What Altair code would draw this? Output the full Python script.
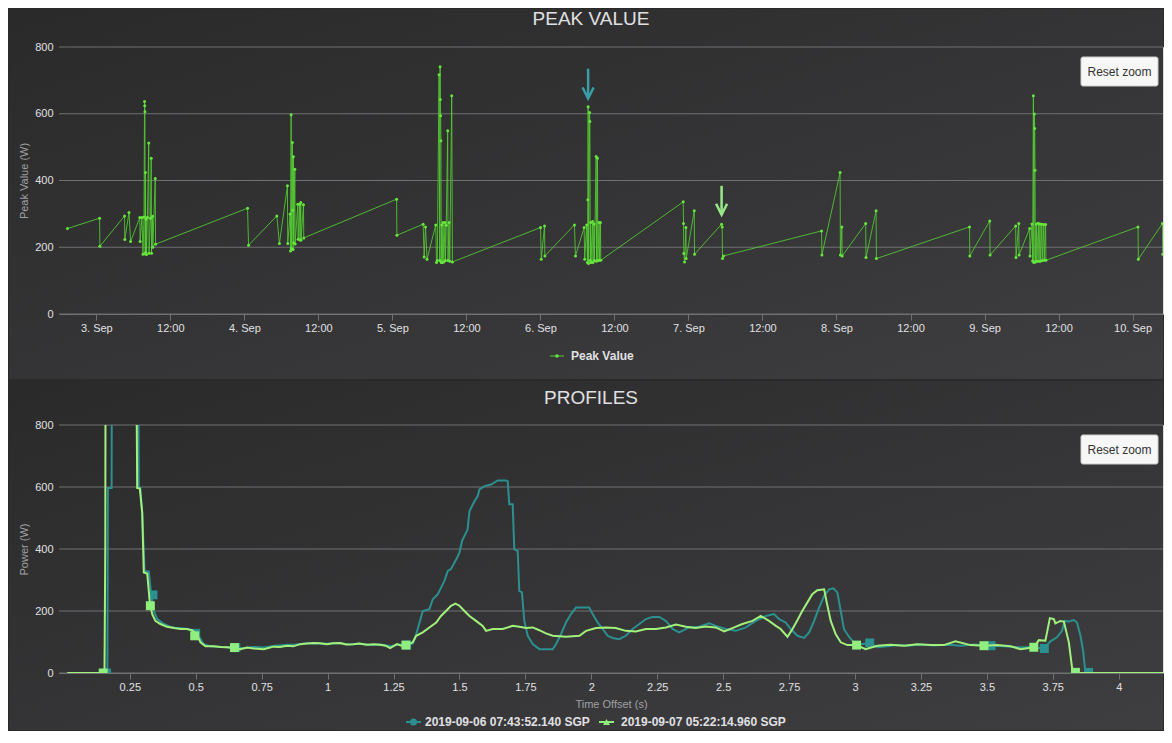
import altair as alt
import pandas as pd

# ---------------- data ----------------
panel_titles = ["PEAK VALUE", "PROFILES"]
reset_label = "Reset zoom"
peak_legend = "Peak Value"
series_labels = ["2019-09-06 07:43:52.140 SGP", "2019-09-07 05:22:14.960 SGP"]

top_domain = ["2019-09-02T17:57", "2019-09-10T04:56"]
time_ticks = ["2019-09-03T00:00", "2019-09-03T12:00", "2019-09-04T00:00", "2019-09-04T12:00",
              "2019-09-05T00:00", "2019-09-05T12:00", "2019-09-06T00:00", "2019-09-06T12:00",
              "2019-09-07T00:00", "2019-09-07T12:00", "2019-09-08T00:00", "2019-09-08T12:00",
              "2019-09-09T00:00", "2019-09-09T12:00", "2019-09-10T00:00"]
watt_ticks = [0, 200, 400, 600, 800]
offset_ticks = [0.25, 0.5, 0.75, 1, 1.25, 1.5, 1.75, 2, 2.25, 2.5, 2.75, 3, 3.25, 3.5, 3.75, 4]
offset_domain = [-0.0185, 4.168]

peak_times = [
    "2019-09-02T19:19", "2019-09-03T00:32", "2019-09-03T00:35", "2019-09-03T04:35", "2019-09-03T04:37",
    "2019-09-03T05:18", "2019-09-03T05:33", "2019-09-03T07:03", "2019-09-03T07:06",
    "2019-09-03T07:24", "2019-09-03T07:34", "2019-09-03T07:44", "2019-09-03T07:49", "2019-09-03T07:51",
    "2019-09-03T07:53", "2019-09-03T07:55", "2019-09-03T07:58", "2019-09-03T08:01", "2019-09-03T08:04",
    "2019-09-03T08:08", "2019-09-03T08:17", "2019-09-03T08:30", "2019-09-03T08:33", "2019-09-03T08:47",
    "2019-09-03T08:54", "2019-09-03T08:57", "2019-09-03T09:07", "2019-09-03T09:10", "2019-09-03T09:33",
    "2019-09-03T09:36",
    "2019-09-04T00:31", "2019-09-04T00:41", "2019-09-04T05:16", "2019-09-04T05:41", "2019-09-04T06:59",
    "2019-09-04T07:02", "2019-09-04T07:25", "2019-09-04T07:29", "2019-09-04T07:35", "2019-09-04T07:38",
    "2019-09-04T07:47", "2019-09-04T07:50", "2019-09-04T07:54", "2019-09-04T07:57", "2019-09-04T08:00",
    "2019-09-04T08:11", "2019-09-04T08:14", "2019-09-04T08:40", "2019-09-04T08:43", "2019-09-04T08:58",
    "2019-09-04T09:01", "2019-09-04T09:09", "2019-09-04T09:12", "2019-09-04T09:35", "2019-09-04T09:38",
    "2019-09-05T00:41", "2019-09-05T00:44", "2019-09-05T04:59", "2019-09-05T05:09", "2019-09-05T05:22",
    "2019-09-05T05:37", "2019-09-05T07:02", "2019-09-05T07:09", "2019-09-05T07:17", "2019-09-05T07:34",
    "2019-09-05T07:41", "2019-09-05T07:44", "2019-09-05T07:46", "2019-09-05T07:49", "2019-09-05T07:52",
    "2019-09-05T07:55", "2019-09-05T08:00", "2019-09-05T08:05", "2019-09-05T08:13", "2019-09-05T08:20",
    "2019-09-05T08:32", "2019-09-05T08:36", "2019-09-05T08:44", "2019-09-05T08:58", "2019-09-05T09:01",
    "2019-09-05T09:11", "2019-09-05T09:18", "2019-09-05T09:37", "2019-09-05T09:44",
    "2019-09-06T00:01", "2019-09-06T00:08", "2019-09-06T00:40", "2019-09-06T00:43", "2019-09-06T05:31",
    "2019-09-06T05:41", "2019-09-06T07:05", "2019-09-06T07:11", "2019-09-06T07:30", "2019-09-06T07:37",
    "2019-09-06T07:41", "2019-09-06T07:44", "2019-09-06T07:48", "2019-09-06T07:58", "2019-09-06T08:01",
    "2019-09-06T08:05", "2019-09-06T08:09", "2019-09-06T08:12", "2019-09-06T08:28", "2019-09-06T08:31",
    "2019-09-06T08:42", "2019-09-06T08:45", "2019-09-06T09:02", "2019-09-06T09:05", "2019-09-06T09:15",
    "2019-09-06T09:18", "2019-09-06T09:31", "2019-09-06T09:34", "2019-09-06T09:44", "2019-09-06T09:47",
    "2019-09-06T23:09", "2019-09-06T23:12", "2019-09-06T23:15", "2019-09-06T23:22", "2019-09-06T23:35",
    "2019-09-06T23:38", "2019-09-07T00:56", "2019-09-07T00:59", "2019-09-07T05:22", "2019-09-07T05:28",
    "2019-09-07T05:31", "2019-09-07T05:40",
    "2019-09-07T21:35", "2019-09-07T21:38", "2019-09-08T00:35", "2019-09-08T00:38", "2019-09-08T00:52",
    "2019-09-08T00:55", "2019-09-08T04:44", "2019-09-08T04:47", "2019-09-08T06:25", "2019-09-08T06:28",
    "2019-09-08T21:34", "2019-09-08T21:37", "2019-09-09T00:51", "2019-09-09T00:54", "2019-09-09T05:03",
    "2019-09-09T05:06", "2019-09-09T05:33", "2019-09-09T05:36", "2019-09-09T07:19", "2019-09-09T07:22",
    "2019-09-09T07:42", "2019-09-09T07:48", "2019-09-09T07:55", "2019-09-09T08:00", "2019-09-09T08:05",
    "2019-09-09T08:08", "2019-09-09T08:11", "2019-09-09T08:15", "2019-09-09T08:24", "2019-09-09T08:29",
    "2019-09-09T08:44", "2019-09-09T08:49", "2019-09-09T09:00", "2019-09-09T09:03", "2019-09-09T09:18",
    "2019-09-09T09:21", "2019-09-09T09:37", "2019-09-09T09:40", "2019-09-09T09:54", "2019-09-09T09:57",
    "2019-09-10T00:53", "2019-09-10T00:56", "2019-09-10T04:50", "2019-09-10T04:53",
]
peak_values = [
    256, 287, 203, 294, 223, 304, 217, 289, 217,
    289, 179, 291, 637, 624, 606, 180, 424, 184, 285, 178, 290, 512, 182, 287, 467, 182, 293, 200, 406, 209,
    317, 206, 294, 211, 384, 211, 300, 189, 597, 196, 514, 311, 193, 471, 213, 434, 210, 329, 224, 329,
    222, 334, 222, 327, 228,
    344, 236, 269, 171, 261, 164, 267, 154, 160, 717, 160, 741, 643, 594, 519, 154, 267, 154, 274, 156,
    274, 160, 266, 549, 160, 274, 158, 654, 156,
    259, 164, 264, 174, 267, 174, 259, 164, 267, 154, 342, 621, 151, 604, 577, 160, 274, 154, 277, 154,
    270, 160, 472, 158, 467, 160, 274, 161, 274, 161,
    336, 271, 181, 156, 259, 166, 309, 179, 269, 261, 166, 174,
    249, 177, 424, 177, 261, 174, 271, 169, 309, 166,
    261, 174, 279, 177, 264, 169, 271, 177, 256, 174, 270, 159, 654, 154, 599, 556, 431, 156, 270, 158,
    272, 158, 270, 158, 269, 160, 268, 161, 268, 161,
    261, 164, 271, 179,
]

arrow_times = ["2019-09-06T07:43:52", "2019-09-07T05:22:15"]
arrow_top = [735, 384]
arrow_tip = [650, 302]
arrow_head = [662, 314]

prof_a_x = [0.013, 0.05, 0.10, 0.165, 0.167, 0.181, 0.183, 0.280, 0.284, 0.290, 0.297, 0.306, 0.322, 0.331,
            0.341, 0.354, 0.379, 0.40, 0.42, 0.44, 0.467, 0.492, 0.511, 0.53, 0.556, 0.58, 0.62, 0.65, 0.68,
            0.72, 0.76, 0.80, 0.84, 0.88, 0.92, 0.96, 1.00, 1.04, 1.08, 1.12, 1.16, 1.20, 1.24, 1.27, 1.30,
            1.323, 1.336, 1.361, 1.386, 1.399, 1.418, 1.443, 1.456, 1.468, 1.49, 1.50, 1.51, 1.531, 1.538,
            1.557, 1.569, 1.576, 1.595, 1.62, 1.645, 1.677, 1.683, 1.689, 1.702, 1.708, 1.721, 1.727, 1.737,
            1.746, 1.759, 1.778, 1.803, 1.854, 1.866, 1.885, 1.904, 1.923, 1.942, 1.992, 2.005, 2.024, 2.043,
            2.062, 2.081, 2.106, 2.131, 2.157, 2.182, 2.207, 2.232, 2.258, 2.283, 2.308, 2.333, 2.371, 2.409,
            2.447, 2.472, 2.51, 2.548, 2.586, 2.624, 2.662, 2.693, 2.712, 2.737, 2.756, 2.782, 2.807, 2.826,
            2.845, 2.864, 2.883, 2.902, 2.918, 2.933, 2.946, 2.958, 2.977, 2.996, 3.021, 3.056, 3.085, 3.122,
            3.16, 3.20, 3.25, 3.30, 3.35, 3.40, 3.45, 3.516, 3.564, 3.615, 3.665, 3.718, 3.741, 3.766, 3.785,
            3.795, 3.81, 3.83, 3.842, 3.855, 3.865, 3.874, 3.886, 4.0, 4.168]
prof_a_w = [0, 0, 0, 0, 597, 597, 1500, 1500, 597, 597, 520, 329, 327, 252,
            200, 174, 158, 150, 146, 145, 142, 136, 120, 93, 86, 85, 83, 82, 80,
            84, 82, 88, 90, 92, 95, 96, 94, 97, 92, 94, 90, 92, 86, 92, 90,
            95, 125, 200, 206, 238, 254, 297, 329, 335, 370, 388, 426, 463, 522,
            554, 570, 592, 603, 608, 621, 621, 619, 544, 544, 399, 394, 265, 260,
            168, 120, 93, 77, 77, 93, 125, 163, 190, 211, 211, 190, 163, 142,
            120, 113, 109, 120, 142, 158, 174, 181, 181, 168, 142, 131, 147, 149,
            160, 152, 142, 136, 147, 168, 184, 190, 174, 163, 142, 120, 113, 131,
            168, 211, 249, 270, 273, 260, 200, 142, 117, 99, 93, 97, 83, 86,
            90, 88, 92, 89, 91, 88, 92, 88, 86, 83, 83, 79, 102, 115, 136,
            168, 166, 171, 163, 120, 72, 0, 0, 0, 0]

prof_b_x = [0.013, 0.10, 0.154, 0.157, 0.159, 0.271, 0.278, 0.288, 0.297, 0.303, 0.316, 0.326, 0.335, 0.347,
            0.366, 0.391, 0.417, 0.442, 0.467, 0.486, 0.505, 0.518, 0.537, 0.568, 0.595, 0.619, 0.645, 0.669,
            0.695, 0.72, 0.758, 0.795, 0.82, 0.846, 0.87, 0.896, 0.92, 0.947, 0.97, 0.997, 1.02, 1.048, 1.07,
            1.098, 1.12, 1.149, 1.175, 1.199, 1.22, 1.237, 1.263, 1.28, 1.297, 1.323, 1.336, 1.361, 1.386,
            1.412, 1.43, 1.449, 1.468, 1.485, 1.50, 1.519, 1.538, 1.563, 1.588, 1.601, 1.626, 1.664, 1.702,
            1.727, 1.753, 1.778, 1.803, 1.828, 1.854, 1.904, 1.955, 1.98, 2.018, 2.056, 2.093, 2.131, 2.169,
            2.207, 2.245, 2.283, 2.321, 2.359, 2.396, 2.434, 2.472, 2.504, 2.535, 2.573, 2.611, 2.643, 2.674,
            2.70, 2.718, 2.744, 2.763, 2.782, 2.80, 2.819, 2.838, 2.857, 2.883, 2.893, 2.908, 2.927, 2.946,
            2.971, 3.006, 3.04, 3.085, 3.135, 3.186, 3.236, 3.287, 3.337, 3.381, 3.438, 3.489, 3.539, 3.59,
            3.628, 3.678, 3.697, 3.722, 3.739, 3.754, 3.76, 3.779, 3.792, 3.811, 3.823, 3.832, 4.0, 4.168]
prof_b_w = [0, 0, 0, 404, 1500, 1500, 597, 595, 517, 324, 321, 227, 190, 168,
            158, 149, 145, 142, 142, 138, 125, 99, 86, 86, 84, 83, 80, 77,
            82, 79, 77, 85, 84, 88, 86, 93, 95, 97, 96, 93, 96, 97, 92,
            93, 95, 91, 93, 91, 88, 80, 93, 88, 90, 99, 120, 131, 147,
            163, 184, 200, 217, 224, 217, 200, 184, 168, 152, 136, 142, 142, 152,
            149, 145, 147, 138, 128, 120, 117, 120, 136, 145, 147, 145, 136, 134,
            142, 142, 147, 156, 149, 145, 150, 147, 134, 145, 158, 168, 184, 168,
            152, 142, 117, 142, 171, 200, 227, 254, 267, 270, 227, 168, 125, 99,
            90, 90, 77, 88, 91, 88, 93, 90, 90, 102, 90, 88, 90, 86,
            77, 83, 106, 104, 177, 174, 160, 168, 166, 99, 18, 0, 0, 0]

mark_a_x = [0.162, 0.338, 0.50, 0.652, 1.30, 3.056, 3.516, 3.718, 3.886]
mark_a_w = [0, 252, 128, 82, 90, 97, 88, 79, 2]
mark_b_x = [0.149, 0.328, 0.496, 0.647, 1.297, 3.006, 3.489, 3.678, 3.836]
mark_b_w = [0, 217, 120, 82, 90, 90, 88, 83, 2]

# ---------------- style ----------------
FONT = "Liberation Sans"
TXT = "#E0E0E3"
AXT = "#A0A0A3"
GRID = "#707073"
TEAL = "#2b908f"
GREEN = "#90ee7e"
GREEN_LINE = "#a2f07c"
PEAK_LINE = "#55cc33"
PEAK_DOT = "#66e63d"
W = 1104
H1, H2 = 267, 248


def dt(s):
    ts = pd.Timestamp(s)
    return alt.DateTime(year=ts.year, month=ts.month, date=ts.day,
                        hours=ts.hour, minutes=ts.minute, seconds=ts.second)


one = pd.DataFrame({"k": [0]})


def background(top, bottom):
    grad = alt.LinearGradient(gradient="linear",
                              stops=[alt.GradientStop(color="#2a2a2b", offset=0),
                                     alt.GradientStop(color="#3e3e40", offset=1)],
                              x1=0, y1=0, x2=1, y2=1)
    return alt.Chart(one).mark_rect(fill=grad, strokeWidth=0).encode(
        x=alt.value(-50), x2=alt.value(W), y=alt.value(-top), y2=alt.value(bottom))


def text_at(x, y, label, size=12, weight="normal", color=TXT, align="left"):
    return alt.Chart(one).mark_text(align=align, baseline="middle", fontSize=size, fontWeight=weight,
                                    color=color, font=FONT).encode(
        x=alt.value(x), y=alt.value(y), text=alt.value(label))


def reset_button():
    box = alt.Chart(one).mark_rect(fill="#f7f7f7", stroke="#cccccc", strokeWidth=1, cornerRadius=2).encode(
        x=alt.value(1022), x2=alt.value(1099), y=alt.value(10), y2=alt.value(39))
    return box + text_at(1060.5, 24.5, reset_label, size=12, color="#333333", align="center")


def y_axis(title, h):
    return alt.Axis(values=watt_ticks, grid=False, domain=False, ticks=False, tickSize=0, labelPadding=6,
                    labelColor=TXT, labelFontSize=11, labelFont=FONT, zindex=1,
                    title=title, titleColor=AXT, titleFontSize=11, titleFontWeight="normal", titleFont=FONT,
                    titleAngle=270, titleX=-35, titleY=h / 2, titleAlign="center", titleBaseline="middle")


# ---------------- top panel ----------------
tx_scale = alt.Scale(domain=[dt(top_domain[0]), dt(top_domain[1])])
tx_axis = alt.Axis(values=[dt(s) for s in time_ticks],
                   labelExpr="hours(datum.value) == 0 ? date(datum.value) + '. Sep' : timeFormat(datum.value, '%H:%M')",
                   grid=False, domainColor=GRID, tickColor=GRID, tickSize=6, labelPadding=2, labelFlush=False,
                   labelOverlap=False, labelColor=TXT, labelFontSize=11, labelFont=FONT, zindex=1, title=None)
ty_scale = alt.Scale(domain=[0, 800], nice=False)
ty_axis = y_axis("Peak Value (W)", H1)


def tx(f):
    return alt.X(f, type="temporal", scale=tx_scale, axis=tx_axis)


def ty(f):
    return alt.Y(f, type="quantitative", scale=ty_scale, axis=ty_axis)


peak_df = pd.DataFrame({"t": peak_times, "v": peak_values})
arrow_df = pd.DataFrame({"t": arrow_times, "top": arrow_top, "tip": arrow_tip, "head": arrow_head,
                         "s": series_labels})
arrow_color = alt.Color("s:N", scale=alt.Scale(domain=series_labels, range=["#3a9ea6", "#98ea88"]), legend=None)

grid_top = alt.Chart(pd.DataFrame({"g": watt_ticks})).mark_rule(color=GRID, strokeWidth=1).encode(y=ty("g"))
line_top = alt.Chart(peak_df).mark_line(color=PEAK_LINE, strokeWidth=1, opacity=0.85, clip=True).encode(
    x=tx("t"), y=ty("v"))
dots_top = alt.Chart(peak_df).mark_circle(color=PEAK_DOT, size=9, opacity=1, clip=True).encode(
    x=tx("t"), y=ty("v"))
shaft = alt.Chart(arrow_df).mark_rule(strokeWidth=2.5).encode(x=tx("t"), y=ty("top"), y2="tip:Q",
                                                              color=arrow_color)
head = alt.Chart(arrow_df).mark_point(shape="M-1,-1L0,1L1,-1", size=121, strokeWidth=2.5, filled=False,
                                      opacity=1).encode(x=tx("t"), y=ty("head"), color=arrow_color)

leg_top = (
    alt.Chart(one).mark_rule(color=PEAK_LINE, strokeWidth=1).encode(
        x=alt.value(491), x2=alt.value(505), y=alt.value(309))
    + alt.Chart(one).mark_circle(color=PEAK_DOT, size=12, opacity=1).encode(x=alt.value(498), y=alt.value(309))
    + text_at(512, 309, peak_legend, size=12, weight="bold")
)

top = alt.layer(
    background(38, 332), grid_top, line_top, dots_top, shaft, head, leg_top, reset_button(),
    text_at(532, -28, panel_titles[0], size=19, align="center"),
).properties(width=W, height=H1)

# ---------------- bottom panel ----------------
bx_scale = alt.Scale(domain=offset_domain, nice=False, zero=False)
bx_axis = alt.Axis(values=offset_ticks, labelExpr="'' + datum.value", grid=False, domainColor=GRID,
                   tickColor=GRID, tickSize=6, labelPadding=2, labelFlush=False, labelOverlap=False,
                   labelColor=TXT, labelFontSize=11, labelFont=FONT, zindex=1, title="Time Offset (s)",
                   titleColor=AXT, titleFontSize=11, titleFontWeight="normal", titleFont=FONT, titleY=31,
                   titleBaseline="middle")
by_scale = alt.Scale(domain=[0, 800], nice=False)
by_axis = y_axis("Power (W)", H2)


def bx(f):
    return alt.X(f, type="quantitative", scale=bx_scale, axis=bx_axis)


def by(f):
    return alt.Y(f, type="quantitative", scale=by_scale, axis=by_axis)


a_df = pd.DataFrame({"x": prof_a_x, "w": prof_a_w})
b_df = pd.DataFrame({"x": prof_b_x, "w": prof_b_w})
ma_df = pd.DataFrame({"x": mark_a_x, "w": mark_a_w})
mb_df = pd.DataFrame({"x": mark_b_x, "w": mark_b_w})

grid_bot = alt.Chart(pd.DataFrame({"g": watt_ticks})).mark_rule(color=GRID, strokeWidth=1).encode(y=by("g"))
line_a = alt.Chart(a_df).mark_line(color=TEAL, strokeWidth=2, clip=True).encode(x=bx("x"), y=by("w"))
line_b = alt.Chart(b_df).mark_line(color=GREEN_LINE, strokeWidth=2, clip=True).encode(x=bx("x"), y=by("w"))
sq_a = alt.Chart(ma_df).mark_square(color=TEAL, size=80, opacity=1, clip=True).encode(x=bx("x"), y=by("w"))
sq_b = alt.Chart(mb_df).mark_square(color=GREEN, size=80, opacity=1, clip=True).encode(x=bx("x"), y=by("w"))

LY = 297
leg_bot = (
    alt.Chart(one).mark_rule(color=TEAL, strokeWidth=2).encode(x=alt.value(347), x2=alt.value(362), y=alt.value(LY))
    + alt.Chart(one).mark_circle(color=TEAL, size=50, opacity=1).encode(x=alt.value(354.5), y=alt.value(LY))
    + text_at(366, LY, series_labels[0], size=12, weight="bold")
    + alt.Chart(one).mark_rule(color=GREEN, strokeWidth=2).encode(x=alt.value(540), x2=alt.value(555), y=alt.value(LY))
    + alt.Chart(one).mark_point(shape="triangle-up", filled=True, color=GREEN, size=50, opacity=1).encode(
        x=alt.value(547.5), y=alt.value(LY))
    + text_at(562, LY, series_labels[1], size=12, weight="bold")
)

bottom = alt.layer(
    background(44, 305), grid_bot, line_a, sq_a, line_b, sq_b, leg_bot, reset_button(),
    text_at(532, -27, panel_titles[1], size=19, align="center"),
).properties(width=W, height=H2)

chart = (
    alt.vconcat(top, bottom, spacing=0)
    .resolve_scale(color="independent")
    .properties(padding=0, background="#2a2a2b")
    .configure_view(strokeWidth=0)
    .configure(font=FONT)
)

chart.save("out.html", embed_options={"renderer": "svg", "actions": False})
